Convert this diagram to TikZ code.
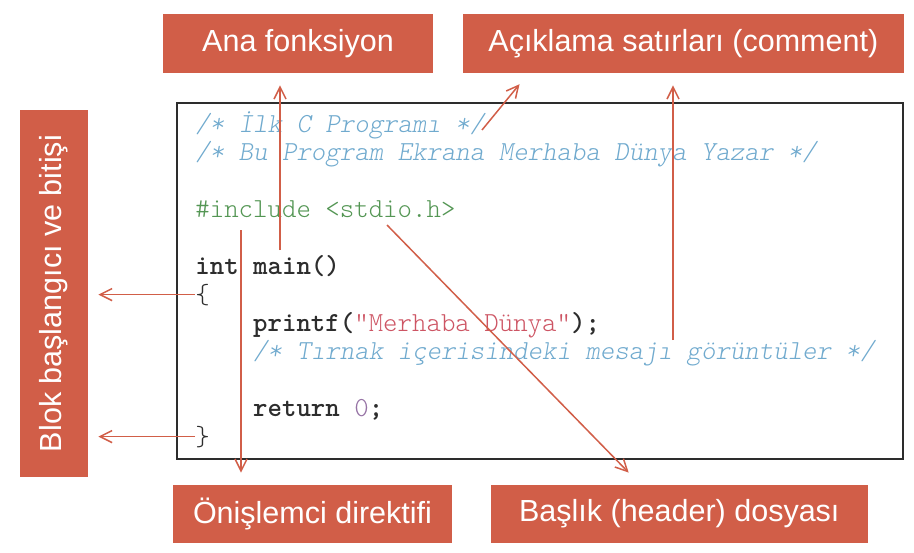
\documentclass[tikz,border=0pt]{standalone}
\usepackage{fontspec}
\setmainfont{Liberation Sans}
\newfontfamily\codefont{lmmonolt10-regular.otf}[BoldFont=lmmonolt10-bold.otf,
        ItalicFont=lmmonolt10-oblique.otf]
\usepackage{tikz}
\usetikzlibrary{positioning}
\usetikzlibrary{arrows.meta}
\definecolor{boxred}{RGB}{209,94,72}
\definecolor{cmtblue}{RGB}{112,170,206}
\definecolor{inclgreen}{RGB}{84,150,84}
\definecolor{strred}{RGB}{205,85,100}
\definecolor{numpurple}{RGB}{150,115,165}
\definecolor{kwgray}{RGB}{45,45,45}
\tikzset{%
  lbl/.style = {rectangle,fill=boxred,text=white,inner sep=0pt,
        font=\fontsize{15.25}{18}\selectfont},
  codeln/.style = {anchor=base west,inner sep=0pt,
        font=\codefont\fontsize{13.76}{16}\selectfont},
  cmt/.style = {codeln,text=cmtblue,
        font=\codefont\itshape\fontsize{13.76}{16}\selectfont},
  ptr/.style = {-{Straight Barb[length=6pt,width=6pt]},draw=boxred,
        line width=0.75pt}
}
\begin{document}
\begin{tikzpicture}[x=0.5pt,y=-0.5pt]
                \useasboundingbox (0,0) rectangle (914,552);
                \node[draw=kwgray,line width=1pt,minimum width=363pt,
                      minimum height=178pt,inner sep=0pt] (codebox) at (540,281) {};

                \node[cmt] (cmtA) at (195,132) {/* İlk C Programı */};
                \node[cmt] (cmtB) at (195,160.5) {/* Bu Program Ekrana Merhaba Dünya Yazar */};
                \node[codeln,text=inclgreen] (incl) at (195,217) {\#include <stdio.h>};
                \node[codeln,text=kwgray] (mainf) at (195,274) {\textbf{int main()}};
                \node[codeln,text=kwgray] (lbr) at (195,303) {\{};
                \node[codeln,text=kwgray] (prn) at (252.8,331)
                      {\textbf{printf(}\textcolor{strred}{"Merhaba Dünya"}\textbf{);}};
                \node[cmt] (cmtC) at (252.8,359.6) {/* Tırnak içerisindeki mesajı görüntüler */};
                \node[codeln,text=kwgray] (ret) at (252.8,416.5)
                      {\textbf{return} \textcolor{numpurple}{0}\textbf{;}};
                \node[codeln,text=kwgray] (rbr) at (195,445) {\}};

                \node[lbl,minimum width=135pt,minimum height=29.5pt] (ana) at (298,43.5) {Ana fonksiyon};
                \node[lbl,minimum width=220.5pt,minimum height=29.5pt] (acik) [right=14.5pt of ana]
                      {Açıklama satırları (comment)};
                \node[lbl,rotate=90,minimum width=183.5pt,minimum height=34pt] (blok) at (54,293.5)
                      {Blok başlangıcı ve bitişi};
                \node[lbl,minimum width=139.5pt,minimum height=29pt] (oni) at (312.5,514) {Önişlemci direktifi};
                \node[lbl,minimum width=188.5pt,minimum height=29pt] (bas) [right=19pt of oni]
                      {Başlık (header) dosyası};

                \coordinate (pMain) at (280,250);
                \coordinate (pCmtA) at (482,130);
                \coordinate (pCmtC) at (673,340);
                \coordinate (pIncl) at (241,230);
                \coordinate (pHdr) at (387,225);

                \draw[ptr,shorten >=6pt] (pMain) -- (pMain |- ana.south);
                \draw[ptr,shorten >=7pt] (pCmtA) -- ([xshift=33pt]acik.south west);
                \draw[ptr,shorten >=6pt] (pCmtC) -- (pCmtC |- acik.south);
                \draw[ptr,shorten >=6pt] (pIncl) -- (pIncl |- oni.north);
                \draw[ptr,shorten >=8.4pt] (pHdr) -- ([xshift=75pt]bas.north west);
                \draw[ptr,shorten >=5pt] (lbr.west) -- (blok.south |- lbr.west);
                \draw[ptr,shorten >=5pt] (rbr.west) -- (blok.south |- rbr.west);
\end{tikzpicture}
\end{document}
